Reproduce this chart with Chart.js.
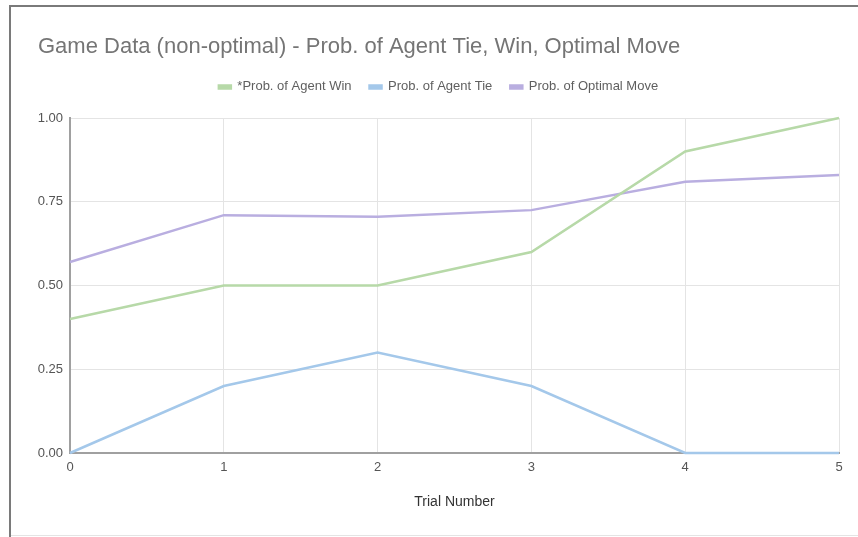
<!DOCTYPE html>
<html>
<head>
<meta charset="utf-8">
<script src="https://cdn.jsdelivr.net/npm/chart.js@4/dist/chart.umd.min.js"></script>
<style>
  html, body { margin: 0; padding: 0; background: #ffffff; }
  #wrap { position: relative; width: 858px; height: 537px; overflow: hidden; }
  #frameLeft { position: absolute; left: 9px; top: 5px; width: 2px; height: 532px; background: #7a7a7a; }
  #frameTop { position: absolute; left: 9px; top: 5px; width: 849px; height: 2px; background: #7a7a7a; }
  #frameBottom { position: absolute; left: 11px; top: 535px; width: 847px; height: 1px; background: #e4e4e4; }
  canvas { position: absolute; left: 0; top: 0; }
</style>
</head>
<body>
<div id="wrap">
  <div id="frameLeft"></div>
  <div id="frameTop"></div>
  <div id="frameBottom"></div>
  <canvas id="chart" width="858" height="537"></canvas>
</div>
<script>
// Trial numbers along the x axis
const trials = ['0', '1', '2', '3', '4', '5'];

// Per-trial probabilities
const probAgentWin = [0.40, 0.50, 0.50, 0.60, 0.90, 1.00];
const probAgentTie = [0.00, 0.20, 0.30, 0.20, 0.00, 0.00];
const probOptimalMove = [0.57, 0.71, 0.705, 0.725, 0.81, 0.83];

// Y axis tick values
const yTicks = [0, 0.25, 0.5, 0.75, 1.0];

const FONT = "'Liberation Sans', Arial, sans-serif";

// Give the legend a fixed height so the plot starts below it at a set spot
const legendHeight = {
  id: 'legendHeight',
  beforeInit(chart) {
    const legend = chart.legend;
    if (!legend) return;
    const origFit = legend.fit;
    legend.fit = function () {
      origFit.call(this);
      this.height = 55.6;
    };
  }
};

new Chart(document.getElementById('chart'), {
  type: 'line',
  data: {
    labels: trials,
    datasets: [
      {
        label: '*Prob. of Agent Win',
        data: probAgentWin,
        borderColor: '#b7d9a8',
        backgroundColor: '#b7d9a8'
      },
      {
        label: 'Prob. of Agent Tie',
        data: probAgentTie,
        borderColor: '#a4c8ea',
        backgroundColor: '#a4c8ea'
      },
      {
        label: 'Prob. of Optimal Move',
        data: probOptimalMove,
        borderColor: '#b9aee0',
        backgroundColor: '#b9aee0'
      }
    ].map(ds => Object.assign(ds, {
      borderWidth: 2.5,
      pointRadius: 0,
      tension: 0,
      clip: 4
    }))
  },
  options: {
    responsive: false,
    animation: false,
    devicePixelRatio: 1,
    layout: { padding: { left: 38, right: 19, top: 34, bottom: 0 } },
    plugins: {
      title: {
        display: true,
        text: 'Game Data (non-optimal) - Prob. of Agent Tie, Win, Optimal Move',
        align: 'start',
        color: '#757575',
        font: { family: FONT, size: 22, weight: 'normal' },
        padding: { top: 0, bottom: 2 }
      },
      legend: {
        display: true,
        position: 'top',
        align: 'center',
        labels: {
          color: '#5f5f5f',
          font: { family: FONT, size: 13 },
          boxWidth: 12,
          boxHeight: 3,
          padding: 18
        }
      },
      tooltip: { enabled: false }
    },
    scales: {
      x: {
        type: 'category',
        offset: false,
        grid: { color: '#e4e4e4', lineWidth: 1, drawTicks: false },
        border: { display: true, color: '#a0a0a0', width: 2 },
        ticks: {
          color: '#555555',
          font: { family: FONT, size: 13 },
          padding: 7,
          maxRotation: 0
        },
        title: {
          display: true,
          text: 'Trial Number',
          color: '#333333',
          font: { family: FONT, size: 14 },
          padding: { top: 4, bottom: 26 }
        },
        afterFit(scale) { scale.height = 84; }
      },
      y: {
        min: 0,
        max: 1,
        afterBuildTicks(scale) { scale.ticks = yTicks.map(v => ({ value: v })); },
        grid: { color: '#e4e4e4', lineWidth: 1, drawTicks: false },
        border: { display: true, color: '#a0a0a0', width: 2 },
        ticks: {
          color: '#555555',
          font: { family: FONT, size: 13 },
          padding: 7,
          callback: v => Number(v).toFixed(2)
        },
        afterFit(scale) { scale.width = 32; }
      }
    }
  },
  plugins: [legendHeight]
});
</script>
</body>
</html>
